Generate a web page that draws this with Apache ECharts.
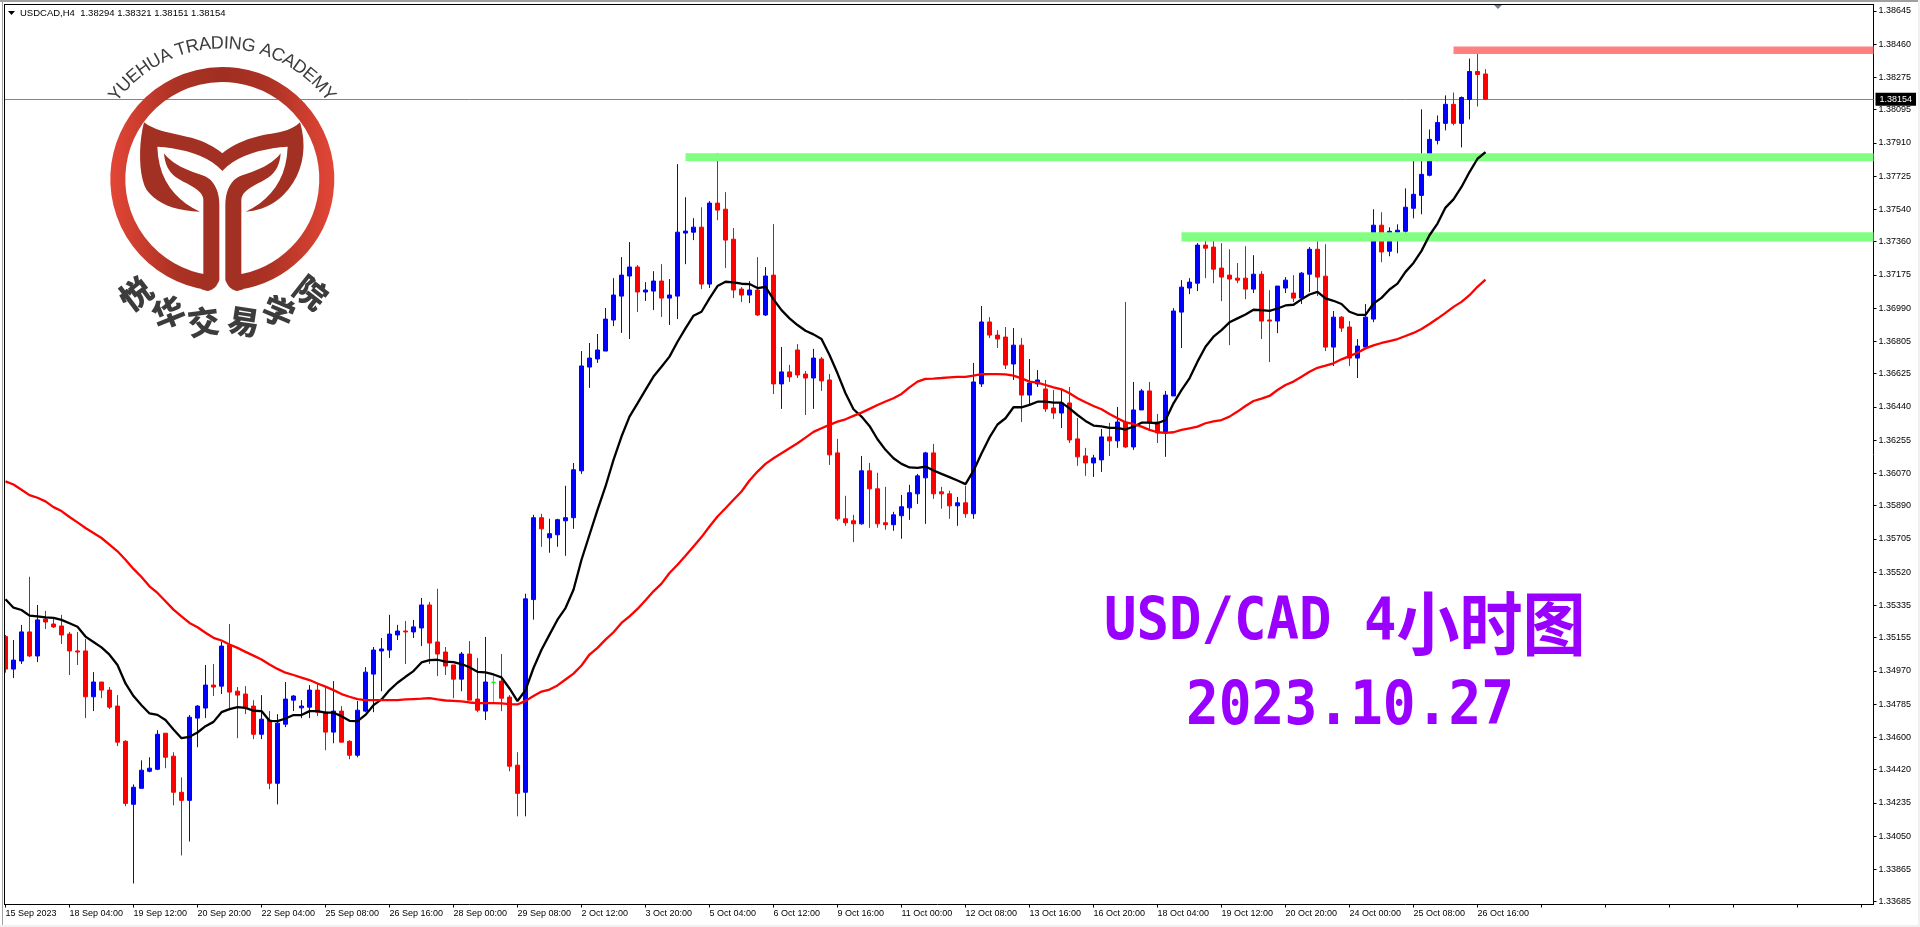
<!DOCTYPE html>
<html><head><meta charset="utf-8">
<style>html,body{margin:0;padding:0;background:#fff}#c{width:1920px;height:927px}</style>
<script src="https://cdn.jsdelivr.net/npm/echarts@6/dist/echarts.min.js"></script>
</head><body><div id="c"></div>
<script>
const chartTitle='USDCAD,H4  1.38294 1.38321 1.38151 1.38154';
const lastPrice=1.38154;
const tickLabels=['15 Sep 2023','18 Sep 04:00','19 Sep 12:00','20 Sep 20:00','22 Sep 04:00','25 Sep 08:00','26 Sep 16:00','28 Sep 00:00','29 Sep 08:00','2 Oct 12:00','3 Oct 20:00','5 Oct 04:00','6 Oct 12:00','9 Oct 16:00','11 Oct 00:00','12 Oct 08:00','13 Oct 16:00','16 Oct 20:00','18 Oct 04:00','19 Oct 12:00','20 Oct 20:00','24 Oct 00:00','25 Oct 08:00','26 Oct 16:00'];
const priceTicks=[1.38645,1.38460,1.38275,1.38095,1.37910,1.37725,1.37540,1.37360,1.37175,1.36990,1.36805,1.36625,1.36440,1.36255,1.36070,1.35890,1.35705,1.35520,1.35335,1.35155,1.34970,1.34785,1.34600,1.34420,1.34235,1.34050,1.33865,1.33685];
const opens=[1.35161,1.34980,1.35025,1.35187,1.35053,1.35259,1.35231,1.35220,1.35175,1.35081,
1.35081,1.34826,1.34908,1.34863,1.34774,1.34578,1.34227,1.34316,1.34411,1.34422,
1.34623,1.34495,1.34294,1.34249,1.34707,1.34763,1.34891,1.34885,1.35114,1.34857,
1.34841,1.34774,1.34617,1.34696,1.34344,1.34673,1.34807,1.34764,1.34768,1.34863,
1.34740,1.34629,1.34746,1.34578,1.34500,1.34746,1.34952,1.35081,1.35086,1.35170,
1.35192,1.35187,1.35209,1.35337,1.35131,1.35075,1.35003,1.34924,1.35064,1.34813,
1.34746,1.34906,1.34913,1.34824,1.34445,1.34294,1.35367,1.35823,1.35711,1.35728,
1.35806,1.35823,1.36084,1.36662,1.36707,1.36751,1.36924,1.37057,1.37169,1.37219,
1.37080,1.37085,1.37141,1.37046,1.37057,1.37408,1.37413,1.37441,1.37124,1.37575,
1.37541,1.37374,1.37096,1.37063,1.37091,1.36952,1.37174,1.36568,1.36635,1.36757,
1.36623,1.36601,1.36707,1.36590,1.36184,1.35817,1.35806,1.35789,1.36084,1.35984,
1.35795,1.35784,1.35834,1.35878,1.35956,1.36045,1.36184,1.35967,1.35956,1.35889,
1.35906,1.35845,1.36568,1.36913,1.36840,1.36829,1.36679,1.36784,1.36506,1.36568,
1.36540,1.36434,1.36406,1.36462,1.36262,1.36167,1.36128,1.36145,1.36273,1.36251,
1.36356,1.36217,1.36423,1.36529,1.36356,1.36295,1.36501,1.36968,1.37102,1.37129,
1.37341,1.37330,1.37213,1.37174,1.37157,1.37157,1.37096,1.37179,1.36924,1.36918,
1.37102,1.37074,1.37046,1.37179,1.37318,1.37168,1.36773,1.36940,1.36885,1.36712,
1.36773,1.36929,1.37452,1.37307,1.37413,1.37418,1.37546,1.37618,1.37730,1.37924,
1.38019,1.38125,1.38019,1.38152,1.38308,1.38294];
const closes=[1.34980,1.35030,1.35187,1.35053,1.35254,1.35242,1.35215,1.35170,1.35081,1.35075,
1.34826,1.34908,1.34863,1.34768,1.34573,1.34232,1.34322,1.34417,1.34428,1.34617,
1.34489,1.34294,1.34249,1.34712,1.34774,1.34891,1.34880,1.35108,1.34852,1.34835,
1.34763,1.34617,1.34701,1.34344,1.34679,1.34813,1.34830,1.34774,1.34863,1.34740,
1.34629,1.34746,1.34573,1.34500,1.34751,1.34963,1.35086,1.35092,1.35175,1.35192,
1.35187,1.35215,1.35337,1.35125,1.35064,1.34997,1.34924,1.35064,1.34807,1.34751,
1.34908,1.34906,1.34818,1.34439,1.34288,1.35371,1.35823,1.35761,1.35734,1.35812,
1.35823,1.36090,1.36668,1.36712,1.36757,1.36929,1.37063,1.37174,1.37219,1.37080,
1.37091,1.37141,1.37046,1.37063,1.37413,1.37419,1.37441,1.37124,1.37575,1.37536,
1.37369,1.37091,1.37063,1.37091,1.36952,1.37169,1.36568,1.36635,1.36607,1.36618,
1.36601,1.36712,1.36585,1.36173,1.35817,1.35795,1.35789,1.36084,1.35984,1.35789,
1.35784,1.35839,1.35884,1.35962,1.36056,1.36184,1.35956,1.35956,1.35889,1.35906,
1.35845,1.36579,1.36913,1.36840,1.36818,1.36673,1.36784,1.36506,1.36573,1.36590,
1.36429,1.36406,1.36462,1.36256,1.36162,1.36128,1.36156,1.36273,1.36251,1.36356,
1.36217,1.36423,1.36529,1.36351,1.36295,1.36506,1.36974,1.37107,1.37135,1.37341,
1.37324,1.37207,1.37163,1.37152,1.37146,1.37096,1.37179,1.36918,1.36918,1.37113,
1.37146,1.37046,1.37185,1.37318,1.37163,1.36773,1.36940,1.36879,1.36712,1.36779,
1.36940,1.37452,1.37303,1.37418,1.37424,1.37552,1.37624,1.37735,1.37930,1.38024,
1.38125,1.38019,1.38163,1.38308,1.38291,1.38154];
const lows=[1.34960,1.34930,1.35008,1.35047,1.35019,1.35203,1.35209,1.35120,1.34947,1.35003,
1.34707,1.34746,1.34818,1.34757,1.34551,1.34216,1.33786,1.34316,1.34405,1.34417,
1.34428,1.34221,1.33942,1.34020,1.34545,1.34707,1.34830,1.34841,1.34751,1.34595,
1.34729,1.34590,1.34590,1.34311,1.34227,1.34657,1.34746,1.34707,1.34707,1.34718,
1.34528,1.34567,1.34573,1.34478,1.34489,1.34740,1.34740,1.34857,1.35042,1.35142,
1.35008,1.35153,1.35108,1.35008,1.34941,1.34947,1.34818,1.34857,1.34807,1.34740,
1.34696,1.34796,1.34746,1.34411,1.34160,1.34160,1.35255,1.35661,1.35628,1.35661,
1.35611,1.35761,1.36067,1.36546,1.36685,1.36751,1.36890,1.36852,1.36818,1.36968,
1.37030,1.36979,1.36941,1.36896,1.36929,1.37235,1.37369,1.37096,1.37102,1.37480,
1.37213,1.37046,1.37024,1.37018,1.36946,1.36946,1.36512,1.36429,1.36579,1.36601,
1.36395,1.36429,1.36529,1.36117,1.35806,1.35778,1.35687,1.35784,1.35767,1.35767,
1.35756,1.35750,1.35706,1.35811,1.35900,1.35789,1.35928,1.35873,1.35817,1.35778,
1.35823,1.35817,1.36551,1.36824,1.36768,1.36651,1.36590,1.36356,1.36456,1.36551,
1.36412,1.36373,1.36323,1.36239,1.36112,1.36056,1.36050,1.36078,1.36167,1.36212,
1.36212,1.36201,1.36423,1.36312,1.36239,1.36162,1.36501,1.36768,1.37068,1.37085,
1.37157,1.37129,1.37029,1.36784,1.37129,1.37040,1.37074,1.36818,1.36690,1.36851,
1.37074,1.37024,1.37013,1.37079,1.37057,1.36751,1.36668,1.36857,1.36668,1.36601,
1.36773,1.36912,1.37246,1.37279,1.37296,1.37396,1.37490,1.37513,1.37724,1.37902,
1.37980,1.38008,1.37885,1.38041,1.38113,1.38151];
const highs=[1.35170,1.35142,1.35226,1.35494,1.35337,1.35304,1.35259,1.35282,1.35187,1.35187,
1.35148,1.34963,1.34908,1.34880,1.34835,1.34584,1.34338,1.34472,1.34489,1.34640,
1.34623,1.34517,1.34377,1.34724,1.34779,1.35003,1.35008,1.35131,1.35231,1.34880,
1.34885,1.34807,1.34835,1.34746,1.34729,1.34908,1.34835,1.34807,1.34891,1.34896,
1.34880,1.34913,1.34774,1.34584,1.34802,1.34991,1.35103,1.35153,1.35282,1.35226,
1.35248,1.35254,1.35376,1.35354,1.35427,1.35103,1.35003,1.35075,1.35136,1.35042,
1.35159,1.34947,1.35064,1.34835,1.34517,1.35400,1.35839,1.35845,1.35817,1.35817,
1.36001,1.36128,1.36751,1.36796,1.36846,1.36991,1.37157,1.37274,1.37358,1.37230,
1.37135,1.37196,1.37235,1.37152,1.37792,1.37608,1.37491,1.37552,1.37586,1.37853,
1.37636,1.37436,1.37107,1.37141,1.37274,1.37219,1.37458,1.36774,1.36674,1.36790,
1.36640,1.36763,1.36718,1.36623,1.36262,1.35945,1.35839,1.36167,1.36128,1.36073,
1.35995,1.35856,1.35950,1.36006,1.36067,1.36190,1.36234,1.35995,1.35973,1.35939,
1.36001,1.36685,1.37002,1.36940,1.36868,1.36885,1.36879,1.36823,1.36707,1.36645,
1.36590,1.36534,1.36534,1.36551,1.36378,1.36212,1.36173,1.36317,1.36351,1.36440,
1.37024,1.36579,1.36540,1.36579,1.36401,1.36529,1.36990,1.37146,1.37157,1.37352,
1.37369,1.37402,1.37352,1.37318,1.37241,1.37335,1.37285,1.37196,1.37090,1.37113,
1.37163,1.37174,1.37191,1.37330,1.37363,1.37346,1.36974,1.36946,1.36918,1.36818,
1.37013,1.37541,1.37524,1.37440,1.37457,1.37657,1.37830,1.38097,1.37985,1.38063,
1.38175,1.38191,1.38169,1.38380,1.38436,1.38321];
const maFast=[1.35369,1.35322,1.35309,1.35278,1.35274,1.35268,1.35265,1.35254,1.35235,1.35216,
1.35161,1.35131,1.35101,1.35060,1.35003,1.34900,1.34830,1.34779,1.34733,1.34725,
1.34696,1.34644,1.34595,1.34603,1.34627,1.34662,1.34686,1.34740,1.34757,1.34768,
1.34764,1.34748,1.34746,1.34692,1.34690,1.34705,1.34724,1.34724,1.34746,1.34746,
1.34737,1.34737,1.34718,1.34692,1.34690,1.34725,1.34779,1.34811,1.34863,1.34904,
1.34937,1.34969,1.35017,1.35030,1.35032,1.35021,1.35019,1.35008,1.34990,1.34965,
1.34962,1.34950,1.34934,1.34872,1.34802,1.34863,1.34986,1.35088,1.35172,1.35255,
1.35320,1.35422,1.35589,1.35728,1.35867,1.35997,1.36145,1.36275,1.36386,1.36460,
1.36535,1.36609,1.36664,1.36720,1.36803,1.36877,1.36948,1.36970,1.37044,1.37113,
1.37137,1.37133,1.37126,1.37124,1.37102,1.37109,1.37039,1.36979,1.36933,1.36896,
1.36864,1.36844,1.36818,1.36729,1.36627,1.36516,1.36427,1.36386,1.36334,1.36260,
1.36201,1.36154,1.36123,1.36103,1.36101,1.36108,1.36086,1.36067,1.36049,1.36030,
1.36010,1.36085,1.36180,1.36270,1.36342,1.36377,1.36438,1.36438,1.36451,1.36469,
1.36469,1.36464,1.36464,1.36432,1.36395,1.36362,1.36336,1.36332,1.36323,1.36323,
1.36314,1.36330,1.36352,1.36352,1.36349,1.36367,1.36460,1.36534,1.36599,1.36692,
1.36775,1.36831,1.36868,1.36911,1.36933,1.36955,1.36981,1.36979,1.36975,1.36988,
1.37005,1.37009,1.37039,1.37066,1.37081,1.37044,1.37031,1.37013,1.36970,1.36953,
1.36953,1.37016,1.37047,1.37094,1.37127,1.37192,1.37242,1.37309,1.37396,1.37461,
1.37550,1.37596,1.37665,1.37748,1.37822,1.37859];
const maSlow=[1.36025,1.36008,1.35979,1.35949,1.35934,1.35914,1.35882,1.35860,1.35827,1.35797,
1.35766,1.35738,1.35710,1.35673,1.35636,1.35589,1.35538,1.35493,1.35441,1.35404,
1.35358,1.35311,1.35274,1.35237,1.35213,1.35182,1.35154,1.35139,1.35117,1.35098,
1.35076,1.35055,1.35033,1.35005,1.34981,1.34960,1.34947,1.34932,1.34919,1.34900,
1.34882,1.34863,1.34841,1.34826,1.34813,1.34807,1.34807,1.34807,1.34807,1.34807,
1.34811,1.34813,1.34815,1.34818,1.34811,1.34805,1.34803,1.34800,1.34794,1.34790,
1.34790,1.34790,1.34789,1.34785,1.34783,1.34803,1.34830,1.34855,1.34866,1.34889,
1.34922,1.34955,1.35000,1.35061,1.35098,1.35144,1.35185,1.35237,1.35274,1.35315,
1.35363,1.35413,1.35456,1.35515,1.35561,1.35611,1.35663,1.35715,1.35774,1.35830,
1.35876,1.35923,1.35969,1.36030,1.36080,1.36123,1.36154,1.36182,1.36210,1.36238,
1.36269,1.36301,1.36321,1.36340,1.36358,1.36371,1.36390,1.36408,1.36429,1.36451,
1.36470,1.36488,1.36512,1.36549,1.36581,1.36596,1.36598,1.36601,1.36605,1.36607,
1.36607,1.36614,1.36622,1.36623,1.36623,1.36621,1.36614,1.36599,1.36581,1.36575,
1.36562,1.36549,1.36538,1.36516,1.36488,1.36466,1.36445,1.36427,1.36401,1.36377,
1.36354,1.36345,1.36330,1.36312,1.36299,1.36295,1.36299,1.36312,1.36321,1.36330,
1.36349,1.36360,1.36367,1.36386,1.36414,1.36445,1.36473,1.36486,1.36501,1.36534,
1.36562,1.36581,1.36608,1.36636,1.36658,1.36670,1.36683,1.36705,1.36723,1.36742,
1.36766,1.36783,1.36796,1.36807,1.36818,1.36835,1.36852,1.36874,1.36902,1.36932,
1.36964,1.36997,1.37025,1.37062,1.37109,1.37149];
const zoneStarts=[85,147,181];
const zoneLows=[1.37808,1.37361,1.38405];
const zoneHighs=[1.37852,1.37413,1.38447];
const zoneColors=['#80ff80','#80ff80','#ff8080'];

const slots=234, tickStep=8;
const categories=Array.from({length:slots},(_,i)=>(i%tickStep===0&&tickLabels[i/tickStep])||'');
const candles=opens.map((o,i)=>[o,closes[i],lows[i],highs[i]]);
const zones=zoneStarts.map((s,i)=>[s,zoneLows[i],zoneHighs[i],zoneColors[i]]);
const UI='"Liberation Sans",Arial,sans-serif';

/* logo helpers (outline in logo units, 3 units per pixel) */
const U=3, MID=667;
function outline(start,segs){
  const pts=[start];let p=start;
  segs.forEach(s=>{
    if(s.length===2){pts.push(s);p=s;return;}
    for(let k=1;k<=10;k++){const t=k/10,u=1-t;
      pts.push([u*u*u*p[0]+3*u*u*t*s[0]+3*u*t*t*s[2]+t*t*t*s[4],u*u*u*p[1]+3*u*u*t*s[1]+3*u*t*t*s[3]+t*t*t*s[5]]);}
    p=[s[4],s[5]];
  });
  return pts;
}
const tail=outline([432,367],[[470,395,520,400,560,410],[610,420,650,445,667,460],[690,440,730,418,790,405],[830,398,870,395,900,367],[925,450,905,530,850,585],[815,620,775,632,737,635],[810,600,860,540,863,440],[790,445,710,465,667,513],[625,465,545,445,472,440],[475,540,525,600,600,635],[520,632,470,610,440,570],[415,530,415,430,432,367]]);
const stemL=outline([492,460],[[520,495,560,510,605,525],[640,535,658,570,658,615],[658,840],[650,860,640,870,622,873],[604,868],[610,823],[610,600],[610,580,590,565,550,545],[510,525,495,500,492,460]]);
const stemR=stemL.map(p=>[2*MID-p[0],p[1]]);
const toPx=pts=>pts.map(p=>[p[0]/U,p[1]/U]);
const LOGO='#a23023', INK='#3c3c3c';
const cx=222.3, cy=179;
const ctx=document.createElement('canvas').getContext('2d');
const arcFont='18px "Liberation Sans"';
ctx.font=arcFont;
const arcText='YUEHUA TRADING ACADEMY';
const total=ctx.measureText(arcText).width, arcR=135.5;
let run=0;
const arcLetters=arcText.split('').map(ch=>{
  const w=ctx.measureText(ch).width, a=(run+w/2-total/2)/arcR; run+=w;
  return {type:'text',z:100,silent:true,x:cx+arcR*Math.sin(a),y:cy-arcR*Math.cos(a),rotation:-a,
    style:{text:ch,font:arcFont,fill:INK,align:'center',verticalAlign:'middle'}};
});
const cnText='悦华交易学院', cnAngles=[-37,-22,-7.5,8.5,23,38];
const cnLetters=cnText.split('').map((ch,i)=>{
  const a=cnAngles[i]*Math.PI/180,r=144;
  return {type:'text',z:100,silent:true,x:cx+r*Math.sin(a),y:cy+r*Math.cos(a),rotation:-a,
    style:{text:ch,font:'900 32px "Noto Sans CJK SC"',fill:INK,align:'center',verticalAlign:'middle'}};
});
const gap=0.14;
const box=(x,y,w,h,fill)=>({type:'rect',z:90,silent:true,shape:{x,y,width:w,height:h},style:{fill}});
const graphics=[
  box(0,0,4,927,'#ffffff'),
  box(2,0,1,927,'#a0a0a0'),
  box(0,0,1920,2,'#a0a0a0'),
  box(1918,0,2,927,'#f0f0f0'),
  box(0,925,1920,2,'#f0f0f0'),
  box(4,4,1,901,'#000000'),
  box(4,4,1870,1,'#000000'),
  {type:'polygon',z:95,silent:true,shape:{points:[[8,11],[15,11],[11.5,15]]},style:{fill:'#000'}},
  {type:'polygon',z:95,silent:true,shape:{points:[[1494,5],[1502,5],[1498,9]]},style:{fill:'#708090'}},
  {type:'arc',z:100,silent:true,shape:{cx,cy,r:104.5,startAngle:Math.PI/2+gap,endAngle:Math.PI/2-gap+2*Math.PI,clockwise:true},
    style:{fill:null,lineWidth:15,stroke:new echarts.graphic.LinearGradient(0,0,1,0,[{offset:0,color:'#e34636'},{offset:.3,color:'#ab3224'},{offset:.5,color:'#a02f21'},{offset:.7,color:'#ab3224'},{offset:1,color:'#e34636'}])}},
  {type:'polygon',z:100,silent:true,shape:{points:toPx(tail)},style:{fill:LOGO}},
  {type:'polygon',z:100,silent:true,shape:{points:toPx(stemL)},style:{fill:LOGO}},
  {type:'polygon',z:100,silent:true,shape:{points:toPx(stemR)},style:{fill:LOGO}},
  ...arcLetters,...cnLetters,
  {type:'text',z:100,silent:true,x:1104,y:624,scaleY:1.1,style:{text:'{a|USD/CAD 4}{b|小时图}',fill:'#9900ff',verticalAlign:'middle',
    rich:{a:{font:'bold 54px "DejaVu Sans Mono"',fill:'#9900ff'},b:{font:'bold 63px "Noto Sans CJK SC"',fill:'#9900ff'}}}},
  {type:'text',z:100,silent:true,x:1186,y:708,scaleY:1.1,style:{text:'2023.10.27',font:'bold 54.5px "DejaVu Sans Mono"',fill:'#9900ff',verticalAlign:'middle'}}
];

const chart=echarts.init(document.getElementById('c'),null,{renderer:'canvas'});
chart.setOption({
  animation:false,
  backgroundColor:'#ffffff',
  title:{text:chartTitle,left:20,top:8,padding:0,textStyle:{fontFamily:UI,fontSize:9.5,fontWeight:'normal',color:'#000'}},
  grid:{left:1.5,top:4.5,width:slots*tickStep,height:900},
  xAxis:{type:'category',data:categories,boundaryGap:true,
    axisLine:{show:true,lineStyle:{color:'#000',width:1}},
    axisTick:{show:true,alignWithLabel:true,interval:tickStep-1,length:3,lineStyle:{color:'#000'}},
    axisLabel:{interval:tickStep-1,align:'left',margin:5,hideOverlap:false,showMinLabel:true,fontFamily:UI,fontSize:9,color:'#000'},
    splitLine:{show:false}},
  yAxis:{type:'value',position:'right',min:1.33669,max:1.38681,scale:true,
    axisLine:{show:true,onZero:false,lineStyle:{color:'#000',width:1}},
    axisTick:{show:true,length:3,customValues:priceTicks,lineStyle:{color:'#000'}},
    axisLabel:{customValues:priceTicks,margin:5,fontFamily:UI,fontSize:9,color:'#000',formatter:v=>v.toFixed(5)},
    splitLine:{show:false}},
  series:[
    {type:'candlestick',name:'USDCAD',data:candles,barWidth:4,z:2,
      itemStyle:{color:'#0000ff',color0:'#ff0000',borderColor:'#0000ff',borderColor0:'#ff0000',borderColorDoji:'#00ff00',borderWidth:1}},
    {type:'custom',name:'zones',data:zones,z:3,silent:true,clip:false,encode:{x:0,y:[1,2]},
      renderItem(params,api){
        const a=api.coord([api.value(0),api.value(2)]),b=api.coord([api.value(0),api.value(1)]);
        const right=params.coordSys.x+params.coordSys.width;
        return {type:'rect',shape:{x:a[0],y:a[1],width:right-a[0],height:b[1]-a[1]},
          style:{fill:zones[params.dataIndex][3],blend:'multiply'}};
      }},
    {type:'line',name:'MA fast',data:maFast,z:4,symbol:'none',smooth:false,lineStyle:{color:'#000',width:2.3},
      markLine:{silent:true,symbol:'none',z:1,precision:5,animation:false,data:[{yAxis:lastPrice}],
        lineStyle:{color:'#778899',width:1,type:'solid'},
        label:{position:'end',distance:2,formatter:()=>lastPrice.toFixed(5),color:'#fff',backgroundColor:'#000',padding:[2,4,2,4],fontFamily:UI,fontSize:9}}},
    {type:'line',name:'MA slow',data:maSlow,z:4,symbol:'none',smooth:false,lineStyle:{color:'#ff0000',width:2.3}}
  ],
  graphic:{elements:graphics}
});
</script></body></html>
